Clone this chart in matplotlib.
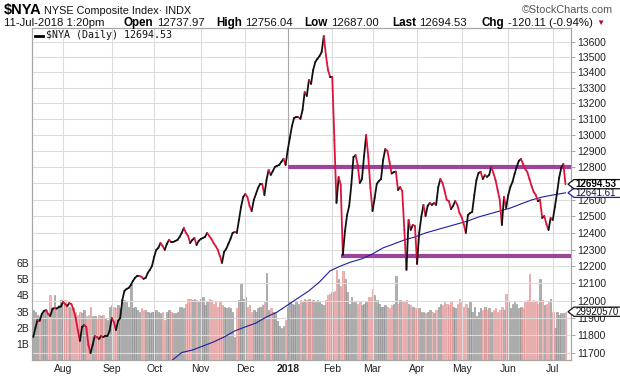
import numpy as np
import pandas as pd
import matplotlib
matplotlib.use('Agg')
import matplotlib.pyplot as plt
import matplotlib.ticker as mticker
from matplotlib.collections import LineCollection
from matplotlib.patches import Polygon
from matplotlib.lines import Line2D
from matplotlib.transforms import IdentityTransform

plt.rcParams['font.family'] = ['Liberation Sans', 'DejaVu Sans']

# trading days 12-Jul-2017 .. 11-Jul-2018
holidays = ['2017-09-04', '2017-11-23', '2017-12-25', '2018-01-01', '2018-01-15',
            '2018-02-19', '2018-03-30', '2018-05-28', '2018-07-04']
dates = pd.bdate_range('2017-07-12', '2018-07-11')
dates = dates[~dates.isin(pd.to_datetime(holidays))]

# daily close of $NYA
close = [
    11791, 11843, 11889, 11883, 11923, 11940, 11946, 11923, 11911, 11951,
    11957, 11954, 11963, 11966, 11992, 11980, 11969, 11986, 11980, 11946,
    11900, 11831, 11769, 11849, 11860, 11849, 11746, 11700, 11746, 11797,
    11791, 11780, 11797, 11791, 11797, 11797, 11826, 11900, 11877, 11831,
    11883, 11900, 12004, 12057, 12068, 12074, 12091, 12115, 12133, 12145,
    12145, 12139, 12127, 12133, 12162, 12180, 12203, 12256, 12298, 12310,
    12339, 12321, 12298, 12333, 12357, 12345, 12345, 12351, 12357, 12375,
    12399, 12429, 12399, 12381, 12339, 12357, 12369, 12327, 12351, 12363,
    12369, 12375, 12399, 12381, 12363, 12339, 12321, 12298, 12262, 12221,
    12286, 12304, 12333, 12363, 12399, 12405, 12399, 12477, 12556, 12616,
    12634, 12616, 12562, 12531, 12598, 12634, 12671, 12696, 12696, 12628,
    12720, 12782, 12751, 12776, 12801, 12807, 12813, 12832, 12851, 12813,
    12906, 12981, 13056, 13107, 13113, 13113, 13101, 13158, 13272, 13247,
    13350, 13324, 13414, 13466, 13486, 13505, 13531, 13636, 13512, 13414,
    13369, 13369, 12968, 12580, 12739, 12690, 12268, 12410, 12507, 12562,
    12690, 12862, 12874, 12813, 12702, 12726, 12868, 12999, 12862, 12671,
    12531, 12610, 12696, 12714, 12726, 12843, 12912, 12900, 12832, 12760,
    12768, 12772, 12659, 12677, 12653, 12417, 12180, 12477, 12417, 12447,
    12441, 12215, 12399, 12495, 12568, 12501, 12562, 12580, 12568, 12580,
    12568, 12677, 12726, 12702, 12653, 12598, 12592, 12543, 12562, 12592,
    12568, 12519, 12495, 12453, 12399, 12507, 12519, 12525, 12628, 12720,
    12764, 12770, 12726, 12751, 12739, 12751, 12801, 12764, 12720, 12659,
    12598, 12447, 12616, 12549, 12628, 12677, 12708, 12758, 12801, 12838,
    12850, 12819, 12788, 12770, 12726, 12684, 12647, 12628, 12590, 12600,
    12489, 12501, 12453, 12417, 12489, 12477, 12556, 12640, 12733, 12795,
    12819, 12694.53,
]

# daily volume, billions of shares
volume_b = [
    3.1, 3.0, 2.8, 2.7, 2.9, 3.0, 3.1, 2.9, 4.0, 3.3,
    4.0, 3.3, 3.4, 3.7, 3.6, 3.7, 3.5, 3.3, 3.2, 3.3,
    3.0, 2.8, 3.0, 2.9, 3.1, 2.7, 2.8, 3.3, 2.7, 2.7,
    2.6, 2.8, 2.7, 2.8, 2.6, 2.5, 3.3, 3.4, 3.3, 3.2,
    3.4, 3.2, 3.7, 3.7, 3.6, 3.3, 4.7, 3.2, 3.3, 3.1,
    3.0, 3.2, 3.1, 3.1, 3.0, 2.9, 3.0, 3.0, 3.1, 3.0,
    2.9, 3.0, 2.5, 3.0, 3.1, 3.0, 2.9, 2.9, 3.0, 3.3,
    3.3, 3.2, 3.5, 3.8, 3.8, 3.7, 3.8, 3.7, 3.6, 3.8,
    3.9, 3.4, 3.6, 3.8, 3.7, 3.5, 3.6, 3.3, 3.6, 3.4,
    3.3, 3.2, 3.3, 3.2, 3.0, 1.45, 3.2, 3.7, 4.8, 3.8,
    3.9, 3.3, 3.4, 3.0, 3.1, 3.0, 3.2, 3.3, 3.4, 3.6,
    5.4, 3.1, 3.2, 3.0, 2.9, 2.4, 2.1, 2.0, 2.1, 2.5,
    3.3, 3.6, 3.5, 3.4, 3.6, 3.5, 3.7, 3.6, 3.8, 3.7,
    3.8, 3.6, 3.7, 3.6, 3.7, 3.6, 3.5, 3.4, 3.7, 4.0,
    4.1, 4.2, 4.3, 5.6, 5.0, 4.6, 5.5, 5.0, 4.2, 3.5,
    3.9, 3.6, 3.6, 3.5, 3.6, 3.4, 3.5, 3.6, 3.9, 3.9,
    4.4, 4.0, 3.7, 3.5, 3.3, 3.3, 3.4, 3.3, 3.2, 3.4,
    3.5, 5.2, 3.5, 3.7, 3.6, 3.6, 3.7, 3.5, 3.4, 3.3,
    3.2, 3.1, 3.2, 3.0, 3.0, 2.9, 3.0, 3.1, 3.0, 2.9,
    3.1, 3.3, 3.5, 3.4, 3.6, 3.5, 3.4, 3.6, 3.3, 3.2,
    3.5, 3.8, 3.6, 3.3, 3.5, 3.2, 3.6, 3.0, 3.3, 2.7,
    3.0, 3.2, 3.1, 3.3, 3.1, 3.2, 3.0, 3.1, 3.2, 3.0,
    3.1, 3.3, 3.1, 4.1, 3.6, 3.2, 3.5, 3.6, 3.5, 3.2,
    3.3, 3.2, 3.6, 3.7, 5.3, 3.6, 3.7, 3.6, 3.5, 5.0,
    3.7, 3.4, 3.5, 3.6, 3.8, 3.0, 2.0, 3.0, 2.8, 2.9,
    2.9, 2.992057,
]

# 200-day moving average, weekly readings
ma_dates = ['2017-10-12', '2017-10-19', '2017-10-26', '2017-11-02', '2017-11-09',
            '2017-11-16', '2017-11-24', '2017-12-01', '2017-12-08', '2017-12-15',
            '2017-12-22', '2018-01-02', '2018-01-09', '2018-01-17', '2018-01-24',
            '2018-01-31', '2018-02-07', '2018-02-14', '2018-02-22', '2018-03-01',
            '2018-03-08', '2018-03-15', '2018-03-22', '2018-03-29', '2018-04-06',
            '2018-04-13', '2018-04-20', '2018-04-27', '2018-05-04', '2018-05-11',
            '2018-05-18', '2018-05-25', '2018-06-04', '2018-06-11', '2018-06-18',
            '2018-06-25', '2018-07-02', '2018-07-11']
ma_values = [11655, 11703, 11717, 11740, 11763, 11791, 11826, 11849, 11871, 11906,
             11934, 11975, 12016, 12057, 12109, 12174, 12203, 12227, 12245, 12274,
             12310, 12333, 12357, 12375, 12399, 12417, 12435, 12453, 12471, 12495,
             12513, 12531, 12549, 12574, 12598, 12616, 12628, 12641.61]

# horizontal trading range lines
resistance = 12800
resistance_from = '2018-01-02'
support = 12264
support_from = '2018-02-07'

# header quote
quote_time = '11-Jul-2018 1:20pm'
quote = [('Open', '12737.97'), ('High', '12756.04'), ('Low', '12687.00'),
         ('Last', '12694.53'), ('Chg', '-120.11 (-0.94%)')]

W, H = 620, 376
fig = plt.figure(figsize=(W / 100, H / 100), dpi=100)
ax_v = fig.add_axes([32 / W, 16 / H, 539 / W, 332 / H])
ax_p = ax_v.twinx()

n = len(close)
x = np.arange(n)
close = np.array(close, dtype=float)
up = np.r_[True, close[1:] >= close[:-1]]

# volume bars
vol = np.array(volume_b) * 1e9
ax_v.bar(x[up], vol[up], width=0.72, color='#b3b3b3', edgecolor='#8a8a8a', lw=0.4, zorder=2)
ax_v.bar(x[~up], vol[~up], width=0.72, color='#f3b8b8', edgecolor='#dd8a8a', lw=0.4, zorder=2)
ax_v.set_ylim(0, 20.58e9)
ax_v.set_xlim(-0.6, 253.6)
ax_v.set_yticks([1e9, 2e9, 3e9, 4e9, 5e9, 6e9])
ax_v.set_yticklabels(['1B', '2B', '3B', '4B', '5B', '6B'])
ax_v.tick_params(axis='y', length=0, pad=2, labelsize=7.5, colors='#222222')

# month ticks
month_pos, month_lab = [], []
for per in pd.period_range('2017-08', '2018-07', freq='M'):
    i = np.where((dates.year == per.year) & (dates.month == per.month))[0][0]
    month_pos.append(i)
    month_lab.append('2018' if per.month == 1 else per.strftime('%b'))
ax_v.set_xticks(month_pos)
ax_v.set_xticklabels(month_lab)
ax_v.tick_params(axis='x', length=0, pad=3, labelsize=7.5, colors='#222222')
for lab in ax_v.get_xticklabels():
    if lab.get_text() == '2018':
        lab.set_fontweight('bold')

# price axis
ax_p.set_yscale('log')
ax_p.set_ylim(11661, 13689)
ticks = np.arange(11700, 13601, 100)
ax_p.yaxis.set_major_locator(mticker.FixedLocator(ticks))
ax_p.yaxis.set_minor_locator(mticker.NullLocator())
ax_p.yaxis.set_major_formatter(mticker.FuncFormatter(lambda v, p: '%d' % round(v)))
ax_p.yaxis.set_minor_formatter(mticker.NullFormatter())
ax_p.tick_params(axis='y', length=3, width=0.6, color='#999999', pad=1.5,
                 labelsize=7.5, labelcolor='#222222')
for t in ticks:
    ax_p.axhline(t, color='#dcdcdc', lw=0.8, zorder=0)
for i, lab in zip(month_pos, month_lab):
    ax_p.axvline(i, color='#a8a8a8' if lab == '2018' else '#dcdcdc', lw=0.8, zorder=0)

for a in (ax_v, ax_p):
    for s in a.spines.values():
        s.set_color('#a6a6a6')
        s.set_linewidth(0.8)

# trading range
r0 = dates.get_loc(pd.Timestamp(resistance_from))
s0 = dates.get_loc(pd.Timestamp(support_from))
ax_p.hlines(resistance, r0, 253.6, color='#9c439c', lw=3, zorder=3)
ax_p.hlines(support, s0, 253.6, color='#9c439c', lw=3, zorder=3)

# 200-day MA
ma_x = [dates.get_loc(pd.Timestamp(d)) for d in ma_dates]
ax_p.plot(ma_x, ma_values, color='#1f1f9e', lw=0.8, zorder=4)

# price line, black on up days and red on down days
segs = [[(x[i - 1], close[i - 1]), (x[i], close[i])] for i in range(1, n)]
cols = ['#111111' if up[i] else '#dc143c' for i in range(1, n)]
ax_p.add_collection(LineCollection(segs, colors=cols, linewidths=1.3, zorder=5,
                                   capstyle='round', joinstyle='round'))

# legend text
fig.add_artist(Line2D([35 / W, 43 / W], [1 - 35.5 / H] * 2, color='black', lw=2))
fig.text(46 / W, 1 - 35.5 / H, '$NYA (Daily) %.2f' % close[-1], family='DejaVu Sans Mono',
         fontsize=7.2, va='center', ha='left', color='#111111')

# value tags on right axis
def tag(y, text, edge, tcolor, weight):
    h = 4.6
    verts = [(568, y), (574, y + h), (622, y + h), (622, y - h), (574, y - h)]
    fig.add_artist(Polygon(verts, closed=True, transform=IdentityTransform(),
                           fc='white', ec=edge, lw=0.9, zorder=10))
    fig.text(575.5, y - 0.3, text, transform=IdentityTransform(), va='center', ha='left',
             fontsize=7, color=tcolor, fontweight=weight, zorder=11)

y_ma = ax_p.transData.transform((0, ma_values[-1]))[1]
y_pr = ax_p.transData.transform((0, close[-1]))[1]
y_vo = ax_v.transData.transform((0, vol[-1]))[1]
tag(y_ma, '%.2f' % ma_values[-1], '#1f1f9e', '#111133', 'normal')
tag(y_pr, '%.2f' % close[-1], '#111111', '#000000', 'bold')
tag(y_vo, '%d' % round(vol[-1] / 100), '#111111', '#111111', 'normal')

# header
renderer = fig.canvas.get_renderer()
fig.text(4 / W, 1 - 10 / H, '$NYA', fontsize=10.5, fontweight='bold', color='#000000',
         va='center', ha='left')
fig.text(44 / W, 1 - 10.5 / H, 'NYSE Composite Index\u00b7 INDX', fontsize=7.8,
         color='#111111', va='center', ha='left')
fig.text(613 / W, 1 - 10 / H, '\u00a9StockCharts.com', fontsize=7.8, color='#555555',
         va='center', ha='right')

y2 = 1 - 23 / H
fig.text(4 / W, y2, quote_time, fontsize=8.2, color='#111111', va='center', ha='left')
label_x = [124, 216, 304, 392, 482]
for (k, v), lx in zip(quote, label_x):
    t = fig.text(lx / W, y2, k, fontsize=8.4, fontweight='bold', color='#000000',
                 va='center', ha='left')
    vx = t.get_window_extent(renderer=renderer).x1 + 3.5
    t = fig.text(vx / W, y2, v, fontsize=8.2, color='#111111', va='center', ha='left')
ex = t.get_window_extent(renderer=renderer).x1 + 3
fig.text(ex / W, y2, '\u25bc', fontsize=6, color='#b0102c', va='center', ha='left')

fig.savefig('out.png', dpi=100)
